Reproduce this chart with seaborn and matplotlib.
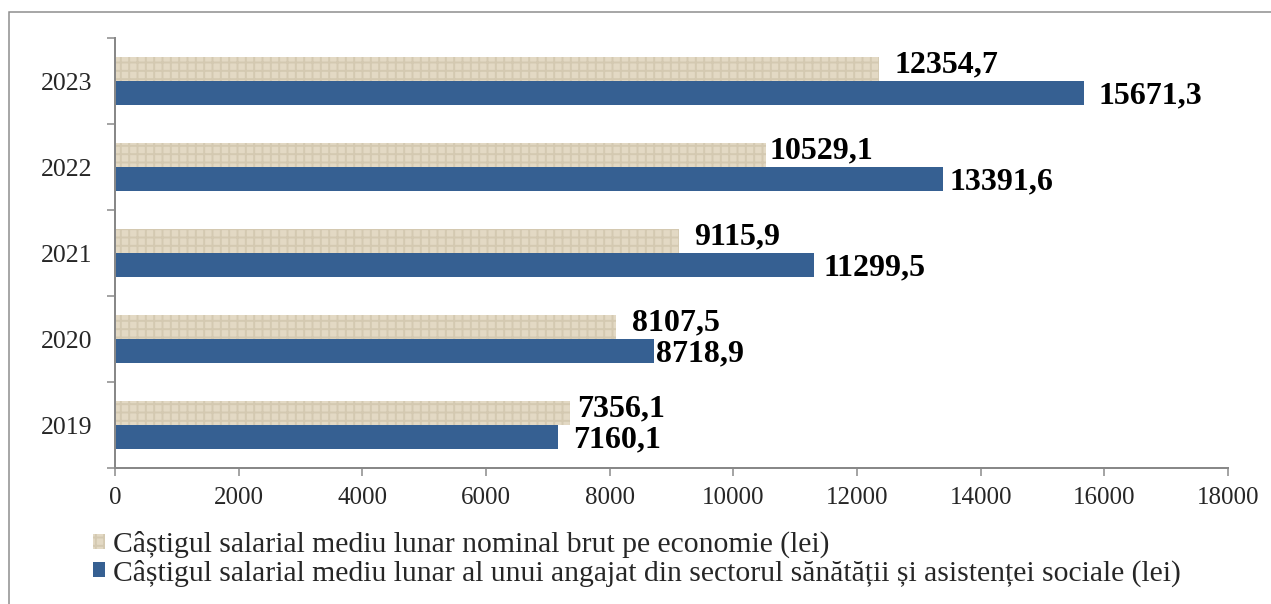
import matplotlib
matplotlib.use("Agg")
import matplotlib.pyplot as plt
from matplotlib.patches import Patch, Rectangle
import seaborn as sns
import pandas as pd

# ---- data ----
years = ["2023", "2022", "2021", "2020", "2019"]
nominal = [12354.7, 10529.1, 9115.9, 8107.5, 7356.1]
health = [15671.3, 13391.6, 11299.5, 8718.9, 7160.1]
series_names = [
    "Câștigul salarial mediu lunar nominal brut pe economie (lei)",
    "Câștigul salarial mediu lunar al unui angajat din sectorul sănătății și asistenței sociale (lei)",
]
x_ticks = [0, 2000, 4000, 6000, 8000, 10000, 12000, 14000, 16000, 18000]

# label horizontal gaps (px) from bar end, per year, per series
gap_nominal_px = [16, 3, 15, 16, 7]
gap_health_px = [14, 6, 10, 2, 15]

# ---- styling ----
sns.set_theme(style="white")
plt.rcParams["font.family"] = ["Liberation Serif", "DejaVu Serif"]
plt.rcParams["hatch.linewidth"] = 1.4

W, H, DPI = 1271, 604, 100
fig = plt.figure(figsize=(W / DPI, H / DPI), dpi=DPI)
ax = fig.add_axes([115 / W, 1 - 468 / H, (1228 - 115) / W, (468 - 38) / H])

df = pd.DataFrame({
    "year": years * 2,
    "value": nominal + health,
    "series": [series_names[0]] * len(years) + [series_names[1]] * len(years),
})

beige = "#E3D9C4"
beige_grain = "#D4C9B1"
blue = "#366092"

sns.barplot(data=df, y="year", x="value", hue="series", order=years,
            hue_order=series_names, palette=[beige, blue], orient="h",
            width=0.56, gap=0, dodge=True, ax=ax, legend=False,
            saturation=1, linewidth=0, errorbar=None)

for p in ax.containers[0]:
    p.set_hatch("++")
    p.set_edgecolor(beige_grain)
    p.set_linewidth(0)

ax.set_xlim(0, 18000)
ax.set_ylim(4.5, -0.5)
ax.set_xlabel("")
ax.set_ylabel("")

px2pt = 72 / DPI
# y axis: major ticks at boundaries, labels at centres
ax.set_yticks([i - 0.5 for i in range(len(years) + 1)])
ax.set_yticklabels([])
ax.set_yticks(range(len(years)), minor=True)
ax.set_yticklabels(years, minor=True, fontsize=18.5)
ax.tick_params(axis="y", which="major", left=True, length=8 * px2pt,
               width=1.5 * px2pt, color="#888888")
ax.tick_params(axis="y", which="minor", left=True, length=0, pad=23 * px2pt)

ax.set_xticks(x_ticks)
ax.set_xticklabels([str(t) for t in x_ticks], fontsize=18)
ax.tick_params(axis="x", which="major", bottom=True, length=8 * px2pt,
               width=1.5 * px2pt, color="#888888", pad=8)

for s in ["top", "right"]:
    ax.spines[s].set_visible(False)
for s in ["left", "bottom"]:
    ax.spines[s].set_color("#888888")
    ax.spines[s].set_linewidth(2 * px2pt)

def fmt(v):
    return f"{v:.1f}".replace(".", ",")

for cont, vals, gaps, dy in [(ax.containers[0], nominal, gap_nominal_px, 4),
                            (ax.containers[1], health, gap_health_px, -3)]:
    for p, v, g in zip(cont, vals, gaps):
        yc = p.get_y() + p.get_height() / 2
        ax.annotate(fmt(v), xy=(v, yc), xytext=(g * px2pt, dy * px2pt),
                    textcoords="offset points", ha="left", va="center",
                    fontsize=23, fontweight="bold", color="black",
                    annotation_clip=False)

# legend
handles = [Patch(facecolor=beige, edgecolor=beige_grain, hatch="++", linewidth=0),
           Patch(facecolor=blue, edgecolor=blue, linewidth=0)]
fig.legend(handles, series_names, loc="upper left",
           bbox_to_anchor=(93 / W, 1 - 531 / H), frameon=False, fontsize=21.3,
           handlelength=0.42, handleheight=0.42, handletextpad=0.24,
           labelspacing=0.03, borderaxespad=0, borderpad=0)

# outer border
fig.patches.append(Rectangle((8.5 / W, -0.1), 1.2, 1 - 12 / H + 0.1,
                             transform=fig.transFigure, fill=False,
                             edgecolor="#8C8C8C", linewidth=1.5 * px2pt,
                             zorder=0))

fig.savefig("out.png", dpi=DPI)
